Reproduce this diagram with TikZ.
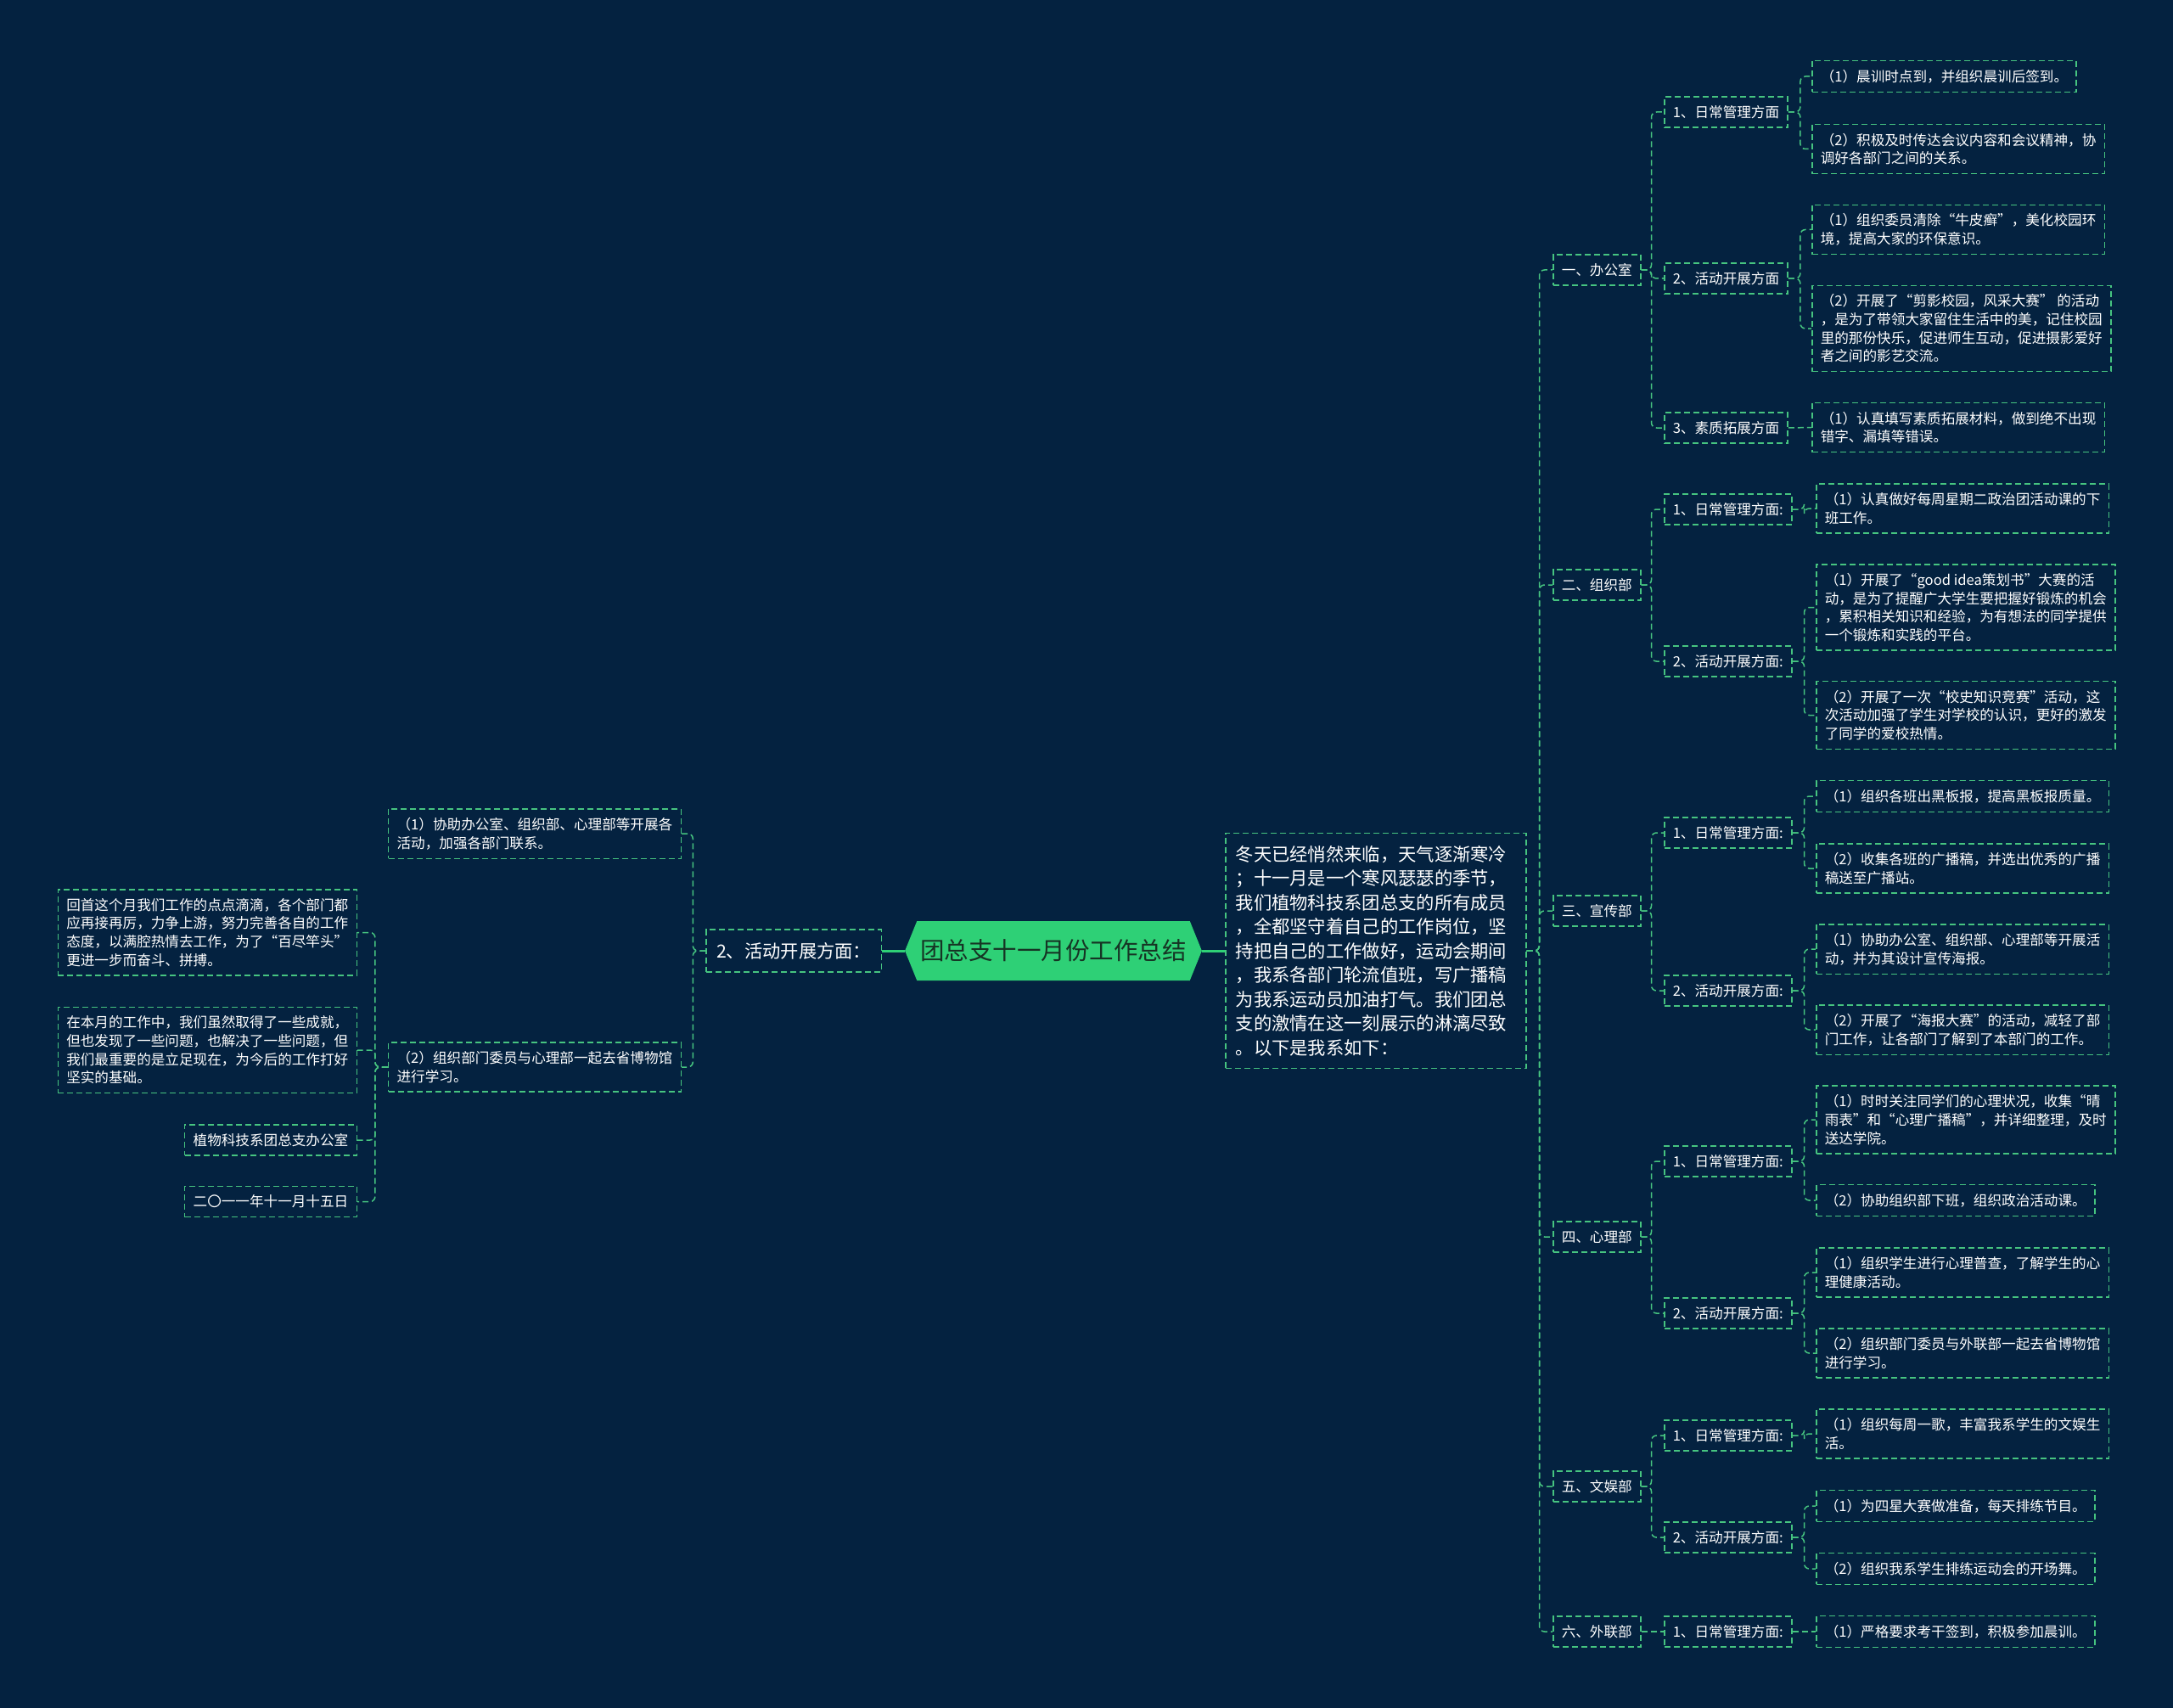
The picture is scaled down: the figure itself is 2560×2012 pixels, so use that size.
\documentclass[tikz,border=0pt]{standalone}
\usepackage{fontspec}
\setmainfont{Noto Sans CJK SC}
\usetikzlibrary{shapes.symbols}
\definecolor{bgnavy}{RGB}{4,34,64}
\definecolor{linegreen}{RGB}{70,196,128}
\definecolor{rootgreen}{RGB}{46,208,118}
\definecolor{roottext}{RGB}{22,52,36}
\tikzset{
  box/.style={draw=linegreen, line width=0.75pt, dash pattern=on 3.5pt off 2pt, text=white, align=left,
    inner xsep=5pt, inner ysep=5.2pt, font=\fontsize{8.3pt}{10.85pt}\selectfont},
  bigbox/.style={box, inner xsep=6pt, inner ysep=7.2pt, font=\fontsize{10.65pt}{14.25pt}\selectfont},
  link/.style={draw=linegreen, line width=0.75pt, dash pattern=on 3.5pt off 2pt, rounded corners=3pt},
  rootlink/.style={draw=rootgreen, line width=1.5pt},
  roothex/.style={signal, signal to=west and east, signal pointer angle=136, fill=rootgreen, text=roottext,
    inner xsep=2pt, minimum height=35pt, font=\fontsize{14.25pt}{17pt}\selectfont}
}
\begin{document}
\begin{tikzpicture}[x=0.5pt, y=-0.5pt]
  \fill[bgnavy] (0,0) rectangle (2560,2012);

  \node[roothex] (root) at (1241,1120) {团总支十一月份工作总结};
  \node[bigbox, anchor=west, text width=165pt] (intro) at (1443,1120) {冬天已经悄然来临，天气逐渐寒冷\\；十一月是一个寒风瑟瑟的季节，\\我们植物科技系团总支的所有成员\\，全都坚守着自己的工作岗位，坚\\持把自己的工作做好，运动会期间\\，我系各部门轮流值班，写广播稿\\为我系运动员加油打气。我们团总\\支的激情在这一刻展示的淋漓尽致\\。以下是我系如下：};
  \node[bigbox, anchor=east, inner ysep=7.5pt] (huodong) at (1039,1120) {2、活动开展方面：};

  \node[box, anchor=east] (huodong1) at (803,982) {（1）协助办公室、组织部、心理部等开展各\\活动，加强各部门联系。};
  \node[box, anchor=east] (huodong2) at (803,1257) {（2）组织部门委员与心理部一起去省博物馆\\进行学习。};
  \node[box, anchor=east] (huishou) at (421,1098.5) {回首这个月我们工作的点点滴滴，各个部门都\\应再接再厉，力争上游，努力完善各自的工作\\态度，以满腔热情去工作，为了“百尽竿头”\\更进一步而奋斗、拼搏。};
  \node[box, anchor=east] (benyue) at (421,1237) {在本月的工作中，我们虽然取得了一些成就，\\但也发现了一些问题，也解决了一些问题，但\\我们最重要的是立足现在，为今后的工作打好\\坚实的基础。};
  \node[box, anchor=east] (luokuan) at (421,1343) {植物科技系团总支办公室};
  \node[box, anchor=east] (riqi) at (421,1415.5) {二〇一一年十一月十五日};

  \node[box, anchor=west] (bgs) at (1829,318) {一、办公室};
  \node[box, anchor=west] (bgs1) at (1960,132) {1、日常管理方面};
  \node[box, anchor=west] (bgs1a) at (2134,90) {（1）晨训时点到，并组织晨训后签到。};
  \node[box, anchor=west] (bgs1b) at (2134,175.5) {（2）积极及时传达会议内容和会议精神，协\\调好各部门之间的关系。};
  \node[box, anchor=west] (bgs2) at (1960,328) {2、活动开展方面};
  \node[box, anchor=west] (bgs2a) at (2134,270.5) {（1）组织委员清除“牛皮癣”，美化校园环\\境，提高大家的环保意识。};
  \node[box, anchor=west] (bgs2b) at (2134,387) {（2）开展了“剪影校园，风采大赛” 的活动\\，是为了带领大家留住生活中的美，记住校园\\里的那份快乐，促进师生互动，促进摄影爱好\\者之间的影艺交流。};
  \node[box, anchor=west] (bgs3) at (1960,504) {3、素质拓展方面};
  \node[box, anchor=west] (bgs3a) at (2134,503.5) {（1）认真填写素质拓展材料，做到绝不出现\\错字、漏填等错误。};

  \node[box, anchor=west] (zzb) at (1829,689) {二、组织部};
  \node[box, anchor=west] (zzb1) at (1960,600) {1、日常管理方面:};
  \node[box, anchor=west] (zzb1a) at (2139,599) {（1）认真做好每周星期二政治团活动课的下\\班工作。};
  \node[box, anchor=west] (zzb2) at (1960,779) {2、活动开展方面:};
  \node[box, anchor=west] (zzb2a) at (2139,715.5) {（1）开展了“good idea策划书”大赛的活\\动，是为了提醒广大学生要把握好锻炼的机会\\，累积相关知识和经验，为有想法的同学提供\\一个锻炼和实践的平台。};
  \node[box, anchor=west] (zzb2b) at (2139,842.5) {（2）开展了一次“校史知识竞赛”活动，这\\次活动加强了学生对学校的认识，更好的激发\\了同学的爱校热情。};

  \node[box, anchor=west] (xcb) at (1829,1073) {三、宣传部};
  \node[box, anchor=west] (xcb1) at (1960,981) {1、日常管理方面:};
  \node[box, anchor=west] (xcb1a) at (2139,938) {（1）组织各班出黑板报，提高黑板报质量。};
  \node[box, anchor=west] (xcb1b) at (2139,1023) {（2）收集各班的广播稿，并选出优秀的广播\\稿送至广播站。};
  \node[box, anchor=west] (xcb2) at (1960,1167) {2、活动开展方面:};
  \node[box, anchor=west] (xcb2a) at (2139,1118) {（1）协助办公室、组织部、心理部等开展活\\动，并为其设计宣传海报。};
  \node[box, anchor=west] (xcb2b) at (2139,1213) {（2）开展了“海报大赛”的活动，减轻了部\\门工作，让各部门了解到了本部门的工作。};

  \node[box, anchor=west] (xlb) at (1829,1457) {四、心理部};
  \node[box, anchor=west] (xlb1) at (1960,1368) {1、日常管理方面:};
  \node[box, anchor=west] (xlb1a) at (2139,1319) {（1）时时关注同学们的心理状况，收集“晴\\雨表”和“心理广播稿”，并详细整理，及时\\送达学院。};
  \node[box, anchor=west] (xlb1b) at (2139,1414) {（2）协助组织部下班，组织政治活动课。};
  \node[box, anchor=west] (xlb2) at (1960,1547) {2、活动开展方面:};
  \node[box, anchor=west] (xlb2a) at (2139,1499) {（1）组织学生进行心理普查，了解学生的心\\理健康活动。};
  \node[box, anchor=west] (xlb2b) at (2139,1594) {（2）组织部门委员与外联部一起去省博物馆\\进行学习。};

  \node[box, anchor=west] (wyb) at (1829,1751) {五、文娱部};
  \node[box, anchor=west] (wyb1) at (1960,1691) {1、日常管理方面:};
  \node[box, anchor=west] (wyb1a) at (2139,1689) {（1）组织每周一歌，丰富我系学生的文娱生\\活。};
  \node[box, anchor=west] (wyb2) at (1960,1811) {2、活动开展方面:};
  \node[box, anchor=west] (wyb2a) at (2139,1774) {（1）为四星大赛做准备，每天排练节目。};
  \node[box, anchor=west] (wyb2b) at (2139,1848) {（2）组织我系学生排练运动会的开场舞。};

  \node[box, anchor=west] (wlb) at (1829,1922) {六、外联部};
  \node[box, anchor=west] (wlb1) at (1960,1922) {1、日常管理方面:};
  \node[box, anchor=west] (wlb1a) at (2139,1922) {（1）严格要求考干签到，积极参加晨训。};

  \draw[rootlink] (root.west) -- (huodong.east);
  \draw[rootlink] (root.east) -- (intro.west);

  \draw[link] (huodong.west) -- ++(-15,0) |- (huodong1.east);
  \draw[link] (huodong.west) -- ++(-15,0) |- (huodong2.east);
  \draw[link] (huodong2.west) -- ++(-15,0) |- (huishou.east);
  \draw[link] (huodong2.west) -- ++(-15,0) |- (benyue.east);
  \draw[link] (huodong2.west) -- ++(-15,0) |- (luokuan.east);
  \draw[link] (huodong2.west) -- ++(-15,0) |- (riqi.east);

  \draw[link] (intro.east) -- ++(15,0) |- (bgs.west);
  \draw[link] (intro.east) -- ++(15,0) |- (zzb.west);
  \draw[link] (intro.east) -- ++(15,0) |- (xcb.west);
  \draw[link] (intro.east) -- ++(15,0) |- (xlb.west);
  \draw[link] (intro.east) -- ++(15,0) |- (wyb.west);
  \draw[link] (intro.east) -- ++(15,0) |- (wlb.west);

  \draw[link] (bgs.east) -- ++(12,0) |- (bgs1.west);
  \draw[link] (bgs.east) -- ++(12,0) |- (bgs2.west);
  \draw[link] (bgs.east) -- ++(12,0) |- (bgs3.west);
  \draw[link] (bgs1.east) -- ++(14,0) |- (bgs1a.west);
  \draw[link] (bgs1.east) -- ++(14,0) |- (bgs1b.west);
  \draw[link] (bgs2.east) -- ++(14,0) |- (bgs2a.west);
  \draw[link] (bgs2.east) -- ++(14,0) |- (bgs2b.west);
  \draw[link] (bgs3.east) -- (bgs3a.west);

  \draw[link] (zzb.east) -- ++(12,0) |- (zzb1.west);
  \draw[link] (zzb.east) -- ++(12,0) |- (zzb2.west);
  \draw[link] (zzb1.east) -- ++(14,0) |- (zzb1a.west);
  \draw[link] (zzb2.east) -- ++(14,0) |- (zzb2a.west);
  \draw[link] (zzb2.east) -- ++(14,0) |- (zzb2b.west);

  \draw[link] (xcb.east) -- ++(12,0) |- (xcb1.west);
  \draw[link] (xcb.east) -- ++(12,0) |- (xcb2.west);
  \draw[link] (xcb1.east) -- ++(14,0) |- (xcb1a.west);
  \draw[link] (xcb1.east) -- ++(14,0) |- (xcb1b.west);
  \draw[link] (xcb2.east) -- ++(14,0) |- (xcb2a.west);
  \draw[link] (xcb2.east) -- ++(14,0) |- (xcb2b.west);

  \draw[link] (xlb.east) -- ++(12,0) |- (xlb1.west);
  \draw[link] (xlb.east) -- ++(12,0) |- (xlb2.west);
  \draw[link] (xlb1.east) -- ++(14,0) |- (xlb1a.west);
  \draw[link] (xlb1.east) -- ++(14,0) |- (xlb1b.west);
  \draw[link] (xlb2.east) -- ++(14,0) |- (xlb2a.west);
  \draw[link] (xlb2.east) -- ++(14,0) |- (xlb2b.west);

  \draw[link] (wyb.east) -- ++(12,0) |- (wyb1.west);
  \draw[link] (wyb.east) -- ++(12,0) |- (wyb2.west);
  \draw[link] (wyb1.east) -- ++(14,0) |- (wyb1a.west);
  \draw[link] (wyb2.east) -- ++(14,0) |- (wyb2a.west);
  \draw[link] (wyb2.east) -- ++(14,0) |- (wyb2b.west);

  \draw[link] (wlb.east) -- (wlb1.west);
  \draw[link] (wlb1.east) -- (wlb1a.west);
\end{tikzpicture}
\end{document}
